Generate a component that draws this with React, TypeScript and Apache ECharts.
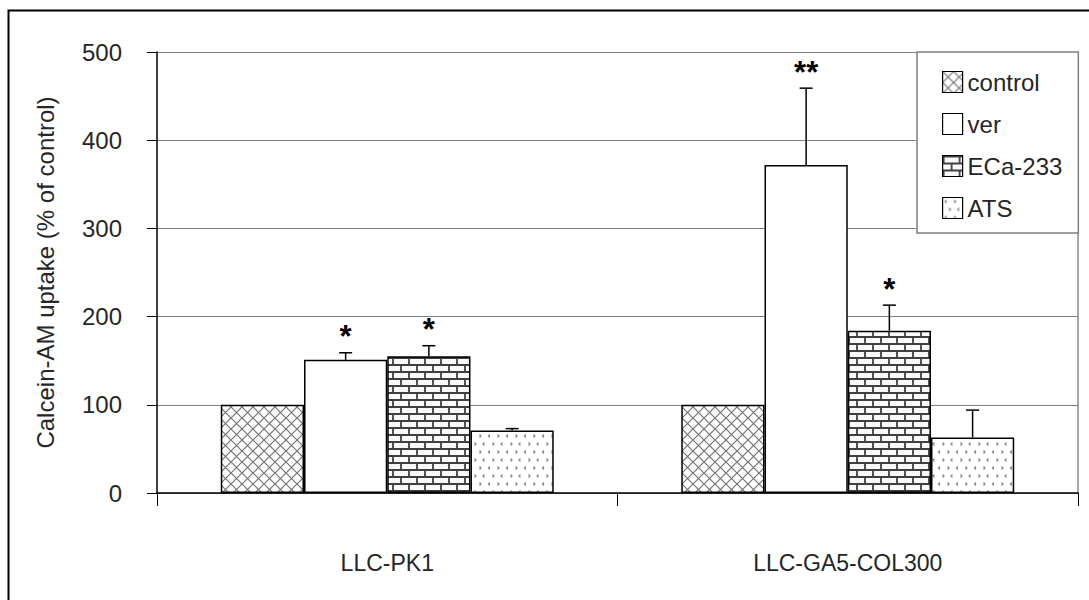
import React, { useEffect, useRef } from "react";
import * as echarts from "echarts";

const categories = ["LLC-PK1", "LLC-GA5-COL300"];
const seriesNames = ["control", "ver", "ECa-233", "ATS"];

const controlValues = [100, 100];
const verValues = [151, 372];
const ecaValues = [155, 184];
const atsValues = [71, 63];

const controlErrors = [0, 0];
const verErrors = [8, 87];
const ecaErrors = [12, 29];
const atsErrors = [2, 31];

const controlSig = ["", ""];
const verSig = ["*", "**"];
const ecaSig = ["*", "*"];
const atsSig = ["", ""];

const yMin = 0;
const yMax = 500;
const yStep = 100;

const yTitle = "Calcein-AM uptake (% of control)";

const FONT = "'Liberation Sans', Arial, Helvetica, sans-serif";
const TXT = "#262626";
const CAT_GAP = 0.277;

function svgUrl(svg: string) {
  return "data:image/svg+xml;charset=utf-8," + encodeURIComponent(svg);
}

const crossPattern = {
  image: svgUrl(
    "<svg xmlns='http://www.w3.org/2000/svg' width='11' height='11'><rect width='11' height='11' fill='#ffffff'/><path d='M-1 -1L12 12M12 -1L-1 12' stroke='#747474' stroke-width='1.2' fill='none'/></svg>"
  ),
  repeat: "repeat",
  imageWidth: 11,
  imageHeight: 11,
};

const whiteFill = "#ffffff";

const brickPattern = {
  image: svgUrl(
    "<svg xmlns='http://www.w3.org/2000/svg' width='16' height='14'><rect width='16' height='14' fill='#fafafa'/><path d='M0 1H16M0 8H16M1 1V8M9 8V14' stroke='#404040' stroke-width='1.8' fill='none'/></svg>"
  ),
  repeat: "repeat",
  imageWidth: 16,
  imageHeight: 14,
};

const dotPattern = {
  image: svgUrl(
    "<svg xmlns='http://www.w3.org/2000/svg' width='18' height='16'><rect width='18' height='16' fill='#ffffff'/><path d='M4 2.5L2.5 4L4 5.5M11.5 2.5L13 4L11.5 5.5M6.5 10.5L8 12L6.5 13.5M16.5 10.5L15 12L16.5 13.5' stroke='#7a7a7a' stroke-width='1.1' fill='none'/></svg>"
  ),
  repeat: "repeat",
  imageWidth: 18,
  imageHeight: 16,
};

const fills: any[] = [crossPattern, whiteFill, brickPattern, dotPattern];
const valueSets = [controlValues, verValues, ecaValues, atsValues];
const errorSets = [controlErrors, verErrors, ecaErrors, atsErrors];
const sigSets = [controlSig, verSig, ecaSig, atsSig];

export default function App() {
  const ref = useRef<HTMLDivElement>(null);

  useEffect(() => {
    document.body.style.margin = "0";
    if (!ref.current) return;
    const chart = echarts.init(ref.current, undefined, { renderer: "svg" });

    const errData: any[] = [];
    const sigList: string[] = [];
    valueSets.forEach((vals, s) => {
      vals.forEach((v, c) => {
        errData.push([c, v, errorSets[s][c], s]);
        sigList.push(sigSets[s][c]);
      });
    });

    const barSeries = seriesNames.map((name, s) => ({
      name,
      type: "bar",
      yAxisIndex: 0,
      data: valueSets[s],
      barGap: "0%",
      barCategoryGap: CAT_GAP * 100 + "%",
      itemStyle: {
        color: fills[s],
        borderColor: "#000000",
        borderWidth: 1.5,
      },
      emphasis: { disabled: true },
    }));

    const option: any = {
      animation: false,
      textStyle: { fontFamily: FONT },
      grid: { left: 157, right: 11, top: 52, bottom: 107, containLabel: false },
      legend: {
        data: seriesNames,
        orient: "vertical",
        left: 917,
        top: 52,
        padding: [18, 16, 13, 25],
        itemWidth: 20,
        itemHeight: 21,
        itemGap: 18,
        itemTextGap: 13,
        icon: "rect",
        backgroundColor: "#ffffff",
        borderColor: "#7f7f7f",
        borderWidth: 1.5,
        borderRadius: 0,
        selectedMode: false,
        textStyle: { fontSize: 24, color: TXT, fontFamily: FONT },
        itemStyle: { borderColor: "#000000", borderWidth: 1.2 },
      },
      xAxis: {
        type: "category",
        data: categories,
        axisLine: { show: true, lineStyle: { color: "#000000", width: 1.5 } },
        axisTick: { show: true, length: 13, lineStyle: { color: "#000000", width: 1 } },
        axisLabel: { fontSize: 23, color: TXT, margin: 58, fontFamily: FONT },
        splitLine: { show: false },
      },
      yAxis: [
        {
          type: "value",
          min: yMin,
          max: yMax,
          interval: yStep,
          name: yTitle,
          nameLocation: "middle",
          nameGap: 100,
          nameTextStyle: { fontSize: 24, color: TXT, fontFamily: FONT },
          axisLine: { show: true, lineStyle: { color: "#000000", width: 1.5 } },
          axisTick: { show: true, length: 10, lineStyle: { color: "#000000", width: 1 } },
          axisLabel: { fontSize: 24, color: TXT, margin: 35, fontFamily: FONT },
          splitLine: { show: true, lineStyle: { color: "#808080", width: 1 } },
        },
        {
          type: "value",
          position: "right",
          min: yMin,
          max: yMax,
          interval: yStep,
          axisLine: { show: true, lineStyle: { color: "#8a8a8a", width: 1.5 } },
          axisTick: { show: false },
          axisLabel: { show: false },
          splitLine: { show: false },
        },
      ],
      graphic: [
        {
          type: "rect",
          left: 6,
          top: 8,
          shape: { x: 0, y: 0, width: 1100, height: 620 },
          style: { fill: "none", stroke: "#000000", lineWidth: 2 },
          silent: true,
          z: 100,
        },
      ],
      series: [
        ...barSeries,
        {
          type: "custom",
          name: "errors",
          yAxisIndex: 0,
          data: errData,
          encode: { x: 0, y: 1 },
          z: 10,
          silent: true,
          renderItem: (params: any, api: any) => {
            const cat = api.value(0);
            const val = api.value(1);
            const err = api.value(2);
            const sIdx = api.value(3);
            const sig = sigList[params.dataIndex];
            const band = api.size([1, 0])[0];
            const barW = (band * (1 - CAT_GAP)) / 4;
            const base = api.coord([cat, val]);
            const x = base[0] + (sIdx - 1.5) * barW;
            const yBar = base[1];
            const yTop = api.coord([cat, val + err])[1];
            const children: any[] = [];
            if (err > 0) {
              children.push({
                type: "line",
                shape: { x1: x, y1: yBar, x2: x, y2: yTop },
                style: { stroke: "#000000", lineWidth: 1.5 },
              });
              children.push({
                type: "line",
                shape: { x1: x - 6.5, y1: yTop, x2: x + 6.5, y2: yTop },
                style: { stroke: "#000000", lineWidth: 1.5 },
              });
            }
            if (sig) {
              children.push({
                type: "text",
                x: x,
                y: yTop - 16,
                style: {
                  text: sig,
                  fontSize: 31,
                  fontWeight: "bold",
                  fontFamily: FONT,
                  fill: "#000000",
                  align: "center",
                  verticalAlign: "middle",
                },
              });
            }
            return { type: "group", children };
          },
        },
      ],
    };

    chart.setOption(option);
    return () => {
      chart.dispose();
    };
  }, []);

  return <div ref={ref} style={{ width: 1089, height: 600 }} />;
}
